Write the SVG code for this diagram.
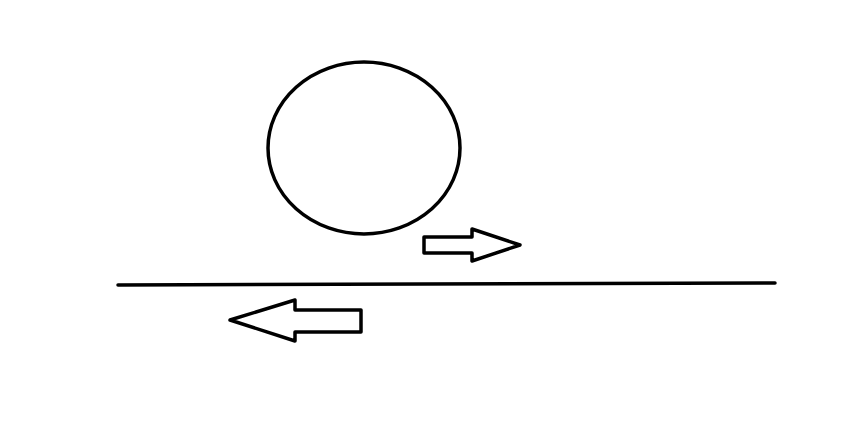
<svg xmlns="http://www.w3.org/2000/svg" width="847" height="431" viewBox="0 0 847 431">
<style>
.s{fill:none;stroke:#000;stroke-width:3.5;stroke-linejoin:round;stroke-linecap:round}
</style>
<rect width="847" height="431" fill="#fff"/>
<ellipse class="s" cx="364" cy="148" rx="96" ry="86"/>
<polyline class="s" points="118,285 775,283"/>
<polygon class="s" points="424,237 472,237 472,229 520,245 472,261 472,253 424,253"/>
<polygon class="s" points="230,320 295,300 295,310 361,310 361,332 295,332 295,341"/>
</svg>
